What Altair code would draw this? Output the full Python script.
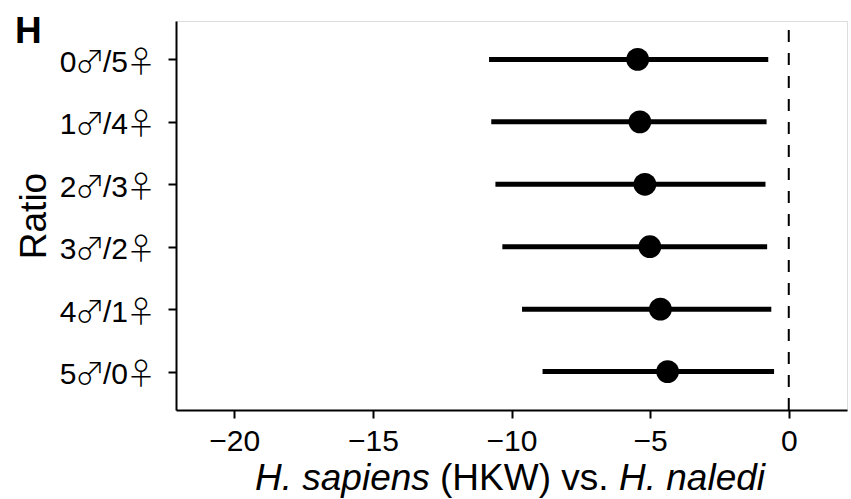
import altair as alt
import pandas as pd

# ---- data ----
ratios = ["0♂/5♀", "1♂/4♀", "2♂/3♀", "3♂/2♀", "4♂/1♀", "5♂/0♀"]
estimate = [-5.45, -5.37, -5.19, -5.01, -4.63, -4.37]
lower = [-10.81, -10.73, -10.58, -10.33, -9.62, -8.88]
upper = [-0.74, -0.80, -0.84, -0.78, -0.63, -0.53]
x_ticks = [-20, -15, -10, -5, 0]
ref_line = [0]
panel_label = ["H"]
x_title_parts = ["H. sapiens", "(HKW) vs.", "H. naledi"]
x_title_styles = ["italic", "normal", "italic"]
x_title_offsets = [79, 264, 443]

FONT = "Liberation Sans"
SYMFONT = "Noto Sans CJK JP"
W, H = 671, 389

df = pd.DataFrame({"ratio": ratios, "estimate": estimate,
                   "lower": lower, "upper": upper})
# pieces of each tick label, so the sex symbols can use their own font
df["p_num1"] = [r[0] for r in ratios]
df["p_male"] = [r[1] for r in ratios]
df["p_num2"] = [r[2:4] for r in ratios]
df["p_female"] = [r[4] for r in ratios]

xscale = alt.Scale(domain=[-22.1, 2.1], nice=False, zero=False)
yscale = alt.Scale(type="point", domain=ratios, padding=0.615)

xaxis = alt.Axis(values=x_ticks, title=None, grid=False,
                 labelFontSize=30, labelFont=FONT, labelColor="black",
                 labelBaseline="alphabetic", labelPadding=32,
                 tickSize=8, tickWidth=2, tickColor="black",
                 domainWidth=2, domainColor="black", labelFlush=False,
                 labelOverlap=False)
yaxis = alt.Axis(title="Ratio", grid=False, labels=False,
                 tickSize=8, tickWidth=2, tickColor="black",
                 domainWidth=2, domainColor="black",
                 titleFont=FONT, titleFontSize=37, titleFontWeight="normal",
                 titleColor="black", titleAngle=270, titleBaseline="alphabetic",
                 titleX=-131, titleY=H / 2, titleAlign="center")

base = alt.Chart(df)

bars = base.mark_rule(strokeWidth=5, color="black").encode(
    x=alt.X("lower:Q", scale=xscale, axis=xaxis),
    x2="upper:Q",
    y=alt.Y("ratio:N", scale=yscale, axis=yaxis, sort=ratios),
)

points = base.mark_circle(size=519, opacity=1, color="black").encode(
    x=alt.X("estimate:Q", scale=xscale),
    y=alt.Y("ratio:N", scale=yscale, sort=ratios),
)

# tick labels drawn piecewise
label_pieces = [
    ("p_num1", FONT, "center", -108, 30, 400),
    ("p_male", SYMFONT, "center", -86, 30, 300),
    ("p_num2", FONT, "right", -48, 30, 400),
    ("p_female", SYMFONT, "center", -35, 30, 300),
]
label_layers = []
for col, fnt, al, xpos, fs, fw in label_pieces:
    label_layers.append(
        base.mark_text(align=al, baseline="alphabetic", dy=12.5,
                       fontSize=fs, font=fnt, fontWeight=fw,
                       color="black").encode(
            text=f"{col}:N",
            x=alt.value(xpos),
            y=alt.Y("ratio:N", scale=yscale, sort=ratios),
        )
    )

vline = alt.Chart(pd.DataFrame({"x": ref_line})).mark_rule(
    strokeDash=[12, 11], strokeWidth=2, color="black"
).encode(x=alt.X("x:Q", scale=xscale), y=alt.value(H), y2=alt.value(0))

label = alt.Chart(pd.DataFrame({"t": panel_label})).mark_text(
    align="left", baseline="alphabetic", fontSize=37, fontWeight="bold",
    font=FONT, color="black"
).encode(text="t:N", x=alt.value(-161), y=alt.value(21.7))

title_layers = []
for txt, sty, off in zip(x_title_parts, x_title_styles, x_title_offsets):
    title_layers.append(
        alt.Chart(pd.DataFrame({"t": [txt]})).mark_text(
            align="left", baseline="alphabetic", fontSize=37,
            fontStyle=sty, font=FONT, color="black"
        ).encode(text="t:N", x=alt.value(off), y=alt.value(469))
    )

chart = alt.layer(vline, bars, points, *label_layers, label,
                  *title_layers).properties(
    width=W, height=H,
    autosize=alt.AutoSizeParams(type="none"),
    padding={"left": 176, "top": 21, "right": 4, "bottom": 89},
).configure_view(stroke=None).configure(background="white")

chart.save("out.html", embed_options={"renderer": "svg", "actions": False})
